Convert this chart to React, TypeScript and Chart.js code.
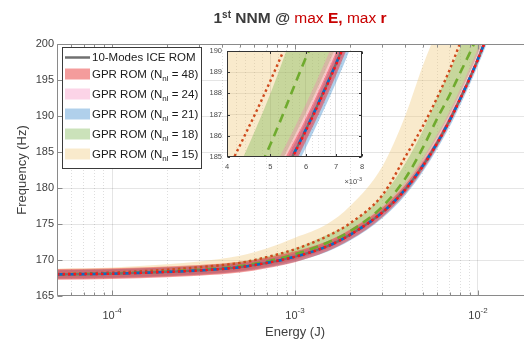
import React, { useEffect, useRef } from "react";
import { Chart, registerables } from "chart.js";
Chart.register(...registerables);

const FONT = "'Liberation Sans', Arial, sans-serif";

// ---------------- data ----------------
const energy = [5e-5, 1e-4, 2e-4, 3e-4, 5e-4, 7e-4, 1e-3, 1.5e-3, 2e-3, 3e-3, 4e-3, 5e-3, 6e-3, 7e-3, 8e-3, 9e-3, 1e-2, 1.2e-2];

const iceRom = [168.0, 168.1, 168.35, 168.55, 169.0, 169.6, 170.45, 171.9, 173.5, 176.6, 179.8, 183.1, 186.3, 189.4, 192.4, 195.2, 197.9, 203.0];
const gpr48Mean = [168.0, 168.1, 168.35, 168.55, 169.0, 169.6, 170.45, 171.9, 173.5, 176.6, 179.75, 183.05, 186.25, 189.35, 192.35, 195.15, 197.85, 203.0];
const gpr21Mean = [168.0, 168.1, 168.35, 168.55, 169.0, 169.6, 170.45, 171.9, 173.5, 176.6, 179.8, 183.1, 186.3, 189.4, 192.4, 195.2, 197.9, 203.0];
const gpr18Mean = [168.0, 168.15, 168.4, 168.65, 169.15, 169.8, 170.8, 172.4, 174.0, 177.4, 181.3, 185.6, 189.7, 192.9, 196.0, 198.7, 201.2, 205.5];
const gpr15Mean = [168.05, 168.25, 168.65, 169.0, 169.6, 170.4, 171.5, 173.3, 175.1, 179.0, 184.3, 188.6, 192.6, 196.4, 200.2, 203.8, 207.2, 213.5];

const gpr48Upper = [168.75, 168.85, 169.1, 169.3, 169.75, 170.35, 171.2, 172.6, 174.2, 177.25, 180.4, 183.7, 186.85, 189.95, 192.9, 195.7, 198.4, 203.5];
const gpr48Lower = [167.25, 167.35, 167.6, 167.8, 168.25, 168.85, 169.7, 171.2, 172.8, 175.95, 179.2, 182.5, 185.75, 188.85, 191.9, 194.7, 197.4, 202.5];
const gpr24Upper = [168.6, 168.7, 168.95, 169.1, 169.55, 170.2, 171.1, 172.6, 174.3, 177.5, 180.8, 184.2, 187.5, 190.7, 193.8, 196.65, 199.4, 204.6];
const gpr24Lower = [167.4, 167.5, 167.75, 167.95, 168.45, 169.05, 169.95, 171.45, 173.05, 176.2, 179.4, 182.7, 185.9, 189.0, 192.0, 194.8, 197.5, 202.6];
const gpr21Upper = [168.6, 168.7, 168.95, 169.15, 169.55, 170.15, 170.95, 172.35, 173.9, 177.0, 180.2, 183.5, 186.7, 189.8, 192.8, 195.6, 198.3, 203.4];
const gpr21Lower = [167.4, 167.5, 167.75, 167.95, 168.4, 168.95, 169.75, 171.15, 172.7, 175.8, 178.95, 182.25, 185.45, 188.5, 191.5, 194.3, 197.0, 202.0];
const gpr18Upper = [168.55, 168.7, 168.95, 169.2, 169.75, 170.5, 171.6, 173.5, 175.1, 178.9, 183.4, 188.0, 192.6, 196.2, 199.5, 202.5, 205.4, 210.5];
const gpr18Lower = [167.5, 167.6, 167.85, 168.1, 168.55, 169.15, 170.1, 171.6, 173.3, 176.6, 180.1, 183.8, 187.1, 190.2, 193.2, 196.0, 198.7, 203.8];
const gpr15Upper = [168.8, 168.95, 169.4, 169.8, 170.6, 171.6, 173.1, 175.0, 177.5, 183.0, 190.0, 197.0, 202.0, 206.0, 210.0, 214.0, 218.0, 226.0];
const gpr15Lower = [167.35, 167.45, 167.7, 167.9, 168.4, 169.0, 170.0, 171.7, 173.4, 176.8, 180.2, 183.6, 186.9, 190.0, 193.0, 195.9, 198.6, 203.7];

// axes / ticks
const xMin = 5e-5;
const xMax = 2e-2;
const xDecades = [1e-4, 1e-3, 1e-2];
const xDecadeExponents = ["-4", "-3", "-2"];
const yMin = 165;
const yMax = 200;
const yStep = 5;

const insetXMin = 4e-3;
const insetXMax = 8e-3;
const insetXLabels = ["4", "5", "6", "7", "8"];
const insetXLabelValues = [4e-3, 5e-3, 6e-3, 7e-3, 8e-3];
const insetYMin = 185;
const insetYMax = 190;

// text
const titleParts = [
  { text: "1", bold: true, red: false, sup: false },
  { text: "st", bold: true, red: false, sup: true },
  { text: " NNM @ ", bold: true, red: false, sup: false },
  { text: "max ", bold: false, red: true, sup: false },
  { text: "E,", bold: true, red: true, sup: false },
  { text: " max ", bold: false, red: true, sup: false },
  { text: "r", bold: true, red: true, sup: false },
];
const xTitle = "Energy (J)";
const yTitle = "Frequency (Hz)";
const lineLegendLabel = "10-Modes ICE ROM";
const bandLegendN = ["48", "24", "21", "18", "15"];

// styles
const C_RED_BAND = "rgba(232,40,40,0.46)";
const C_PINK_BAND = "rgba(245,120,180,0.32)";
const C_BLUE_BAND = "rgba(80,150,210,0.45)";
const C_GREEN_BAND = "rgba(130,185,90,0.42)";
const C_BEIGE_BAND = "rgba(240,200,120,0.38)";
const bandColors = [C_RED_BAND, C_PINK_BAND, C_BLUE_BAND, C_GREEN_BAND, C_BEIGE_BAND];
const AXIS = "#8a8a8a";
const TEXT = "#404040";
const GRID_MAJOR = "rgba(0,0,0,0.10)";
const GRID_MINOR = "rgba(0,0,0,0.13)";

function isDecade(v: number) {
  const l = Math.log10(v);
  return Math.abs(l - Math.round(l)) < 1e-6;
}

function pts(ys: number[]) {
  return energy.map((x, i) => ({ x, y: ys[i] }));
}

function lineDs(label: string, ys: number[], color: string, width: number, dash: number[]) {
  return {
    label,
    data: pts(ys),
    borderColor: color,
    borderWidth: width,
    borderDash: dash,
    pointRadius: 0,
    fill: false,
    clip: 0,
    cubicInterpolationMode: "monotone",
  };
}

function bandDs(label: string, upper: number[], lower: number[], color: string) {
  return [
    {
      label: label + " upper",
      data: pts(upper),
      borderColor: "rgba(0,0,0,0)",
      borderWidth: 0,
      backgroundColor: color,
      pointRadius: 0,
      fill: "+1",
      clip: 0,
      cubicInterpolationMode: "monotone",
    },
    {
      label: label + " lower",
      data: pts(lower),
      borderColor: "rgba(0,0,0,0)",
      borderWidth: 0,
      pointRadius: 0,
      fill: false,
      clip: 0,
      cubicInterpolationMode: "monotone",
    },
  ];
}

function buildDatasets() {
  return [
    lineDs("GPR ROM (N=48) mean", gpr48Mean, "#ff1414", 2.4, [2.5, 3]),
    lineDs("GPR ROM (N=21) mean", gpr21Mean, "#0a6cc2", 2.6, [7, 4]),
    lineDs("10-Modes ICE ROM", iceRom, "#707070", 2.2, []),
    lineDs("GPR ROM (N=18) mean", gpr18Mean, "#6fab2e", 2.6, [9, 6]),
    lineDs("GPR ROM (N=15) mean", gpr15Mean, "#cf4a1c", 2.4, [2.5, 3]),
    ...bandDs("GPR ROM (N=48)", gpr48Upper, gpr48Lower, C_RED_BAND),
    ...bandDs("GPR ROM (N=24)", gpr24Upper, gpr24Lower, C_PINK_BAND),
    ...bandDs("GPR ROM (N=21)", gpr21Upper, gpr21Lower, C_BLUE_BAND),
    ...bandDs("GPR ROM (N=18)", gpr18Upper, gpr18Lower, C_GREEN_BAND),
    ...bandDs("GPR ROM (N=15)", gpr15Upper, gpr15Lower, C_BEIGE_BAND),
  ];
}

function logTicks(min: number, max: number) {
  const out: number[] = [];
  for (let e = Math.floor(Math.log10(min)); e <= Math.ceil(Math.log10(max)); e++) {
    for (let m = 1; m <= 9; m++) {
      const v = Number((m * Math.pow(10, e)).toPrecision(6));
      if (v >= min * 0.9999 && v <= max * 1.0001) out.push(v);
    }
  }
  return out;
}

function drawPow(ctx: CanvasRenderingContext2D, x: number, baseline: number, base: string, exp: string,
  size: number, supSize: number, rise: number, color: string, align: string) {
  ctx.font = `${size}px ${FONT}`;
  const wb = ctx.measureText(base).width;
  ctx.font = `${supSize}px ${FONT}`;
  const we = ctx.measureText(exp).width;
  const total = wb + we;
  const x0 = align === "center" ? x - total / 2 : align === "right" ? x - total : x;
  ctx.fillStyle = color;
  ctx.textAlign = "left";
  ctx.textBaseline = "alphabetic";
  ctx.font = `${size}px ${FONT}`;
  ctx.fillText(base, x0, baseline);
  ctx.font = `${supSize}px ${FONT}`;
  ctx.fillText(exp, x0 + wb, baseline - rise);
}

const mainDecor = {
  id: "mainDecor",
  beforeDraw(chart: any) {
    const { ctx, width, height } = chart;
    ctx.save();
    ctx.fillStyle = "#ffffff";
    ctx.fillRect(0, 0, width, height);
    ctx.restore();
  },
  afterDatasetsDraw(chart: any) {
    const { ctx, chartArea: a, scales } = chart;
    const x = scales.x;
    const y = scales.y;
    ctx.save();
    ctx.strokeStyle = AXIS;
    ctx.lineWidth = 1;
    const L = Math.round(a.left) + 0.5;
    const T = Math.round(a.top) + 0.5;
    const B = Math.round(a.bottom) - 0.5;
    ctx.beginPath();
    ctx.moveTo(L, T);
    ctx.lineTo(L, B);
    ctx.lineTo(a.right, B);
    ctx.moveTo(L, T);
    ctx.lineTo(a.right, T);
    for (const t of x.ticks) {
      const px = Math.round(x.getPixelForValue(t.value)) + 0.5;
      const len = isDecade(t.value) ? 5 : 3;
      ctx.moveTo(px, B);
      ctx.lineTo(px, B - len);
      ctx.moveTo(px, T);
      ctx.lineTo(px, T + len);
    }
    for (const t of y.ticks) {
      const py = Math.round(y.getPixelForValue(t.value)) + 0.5;
      ctx.moveTo(L, py);
      ctx.lineTo(L + 5, py);
    }
    ctx.stroke();

    // legend box
    const lx = 62, ly = 47, lw = 139, lh = 121;
    ctx.fillStyle = "#ffffff";
    ctx.fillRect(lx, ly, lw, lh);
    ctx.strokeStyle = "#3a3a3a";
    ctx.lineWidth = 1;
    ctx.strokeRect(lx + 0.5, ly + 0.5, lw, lh);
    const rowY = [57.5, 74, 94, 114, 134, 154];
    ctx.strokeStyle = "#707070";
    ctx.lineWidth = 2.5;
    ctx.beginPath();
    ctx.moveTo(65, rowY[0]);
    ctx.lineTo(90, rowY[0]);
    ctx.stroke();
    ctx.fillStyle = "#1a1a1a";
    ctx.textAlign = "left";
    ctx.textBaseline = "middle";
    ctx.font = `11.5px ${FONT}`;
    ctx.fillText(lineLegendLabel, 92, rowY[0]);
    for (let i = 0; i < bandLegendN.length; i++) {
      const yy = rowY[i + 1];
      ctx.fillStyle = bandColors[i];
      ctx.fillRect(65, yy - 5.5, 25, 11);
      ctx.fillStyle = "#1a1a1a";
      ctx.textBaseline = "alphabetic";
      ctx.font = `11.5px ${FONT}`;
      const base = yy + 4;
      const p1 = "GPR ROM (N";
      ctx.fillText(p1, 92, base);
      let xx = 92 + ctx.measureText(p1).width;
      ctx.font = `8px ${FONT}`;
      ctx.fillText("nl", xx, base + 3);
      xx += ctx.measureText("nl").width;
      ctx.font = `11.5px ${FONT}`;
      ctx.fillText(" = " + bandLegendN[i] + ")", xx, base);
    }
    ctx.restore();
  },
  afterDraw(chart: any) {
    const { ctx, chartArea: a, scales } = chart;
    const x = scales.x;
    ctx.save();
    xDecades.forEach((v, i) => {
      drawPow(ctx, x.getPixelForValue(v), 318.5, "10", xDecadeExponents[i], 11, 8, 5.5, TEXT, "center");
    });
    ctx.fillStyle = TEXT;
    ctx.font = `13px ${FONT}`;
    ctx.textAlign = "center";
    ctx.textBaseline = "middle";
    ctx.fillText(xTitle, (a.left + a.right) / 2, 332);
    ctx.save();
    ctx.translate(22.5, (a.top + a.bottom) / 2);
    ctx.rotate(-Math.PI / 2);
    ctx.fillText(yTitle, 0, 0);
    ctx.restore();
    // title
    const size = 15.5;
    const supSize = 10;
    let total = 0;
    for (const p of titleParts) {
      ctx.font = `${p.bold ? "bold " : ""}${p.sup ? supSize : size}px ${FONT}`;
      total += ctx.measureText(p.text).width;
    }
    let tx = 300 - total / 2;
    const tb = 23;
    ctx.textAlign = "left";
    ctx.textBaseline = "alphabetic";
    for (const p of titleParts) {
      ctx.font = `${p.bold ? "bold " : ""}${p.sup ? supSize : size}px ${FONT}`;
      ctx.fillStyle = p.red ? "#c80000" : "#3c3c3c";
      ctx.fillText(p.text, tx, p.sup ? tb - 5.5 : tb);
      tx += ctx.measureText(p.text).width;
    }
    ctx.restore();
  },
};

const insetDecor = {
  id: "insetDecor",
  beforeDraw(chart: any) {
    const { ctx, chartArea: a } = chart;
    ctx.save();
    ctx.fillStyle = "#ffffff";
    ctx.fillRect(a.left, a.top, a.right - a.left, a.bottom - a.top);
    ctx.restore();
  },
  afterDraw(chart: any) {
    const { ctx, chartArea: a, scales } = chart;
    const x = scales.x;
    const y = scales.y;
    ctx.save();
    ctx.strokeStyle = "#333333";
    ctx.lineWidth = 1;
    const L = Math.round(a.left) + 0.5;
    const R = Math.round(a.right) - 0.5;
    const T = Math.round(a.top) + 0.5;
    const B = Math.round(a.bottom) - 0.5;
    ctx.strokeRect(L, T, R - L, B - T);
    ctx.beginPath();
    for (const v of insetXLabelValues) {
      const px = Math.round(x.getPixelForValue(v)) + 0.5;
      ctx.moveTo(px, B);
      ctx.lineTo(px, B - 2.5);
      ctx.moveTo(px, T);
      ctx.lineTo(px, T + 2.5);
    }
    for (const t of y.ticks) {
      const py = Math.round(y.getPixelForValue(t.value)) + 0.5;
      ctx.moveTo(L, py);
      ctx.lineTo(L + 2.5, py);
      ctx.moveTo(R, py);
      ctx.lineTo(R - 2.5, py);
    }
    ctx.stroke();
    ctx.fillStyle = "#4a4a4a";
    ctx.font = `7.5px ${FONT}`;
    ctx.textBaseline = "middle";
    ctx.textAlign = "right";
    for (const t of y.ticks) {
      ctx.fillText(String(t.value), a.left - 5, y.getPixelForValue(t.value));
    }
    ctx.textAlign = "center";
    insetXLabelValues.forEach((v, i) => {
      ctx.fillText(insetXLabels[i], x.getPixelForValue(v), a.bottom + 9.5);
    });
    drawPow(ctx, a.right, a.bottom + 27, "\u00d710", "-3", 7.5, 5.5, 3.5, "#4a4a4a", "right");
    ctx.restore();
  },
};

function mainConfig(): any {
  const xTickValues = logTicks(xMin, xMax);
  return {
    type: "line",
    data: { datasets: buildDatasets() },
    options: {
      responsive: false,
      animation: false,
      events: [],
      layout: { padding: { left: 0, right: 1, top: 44, bottom: 0 } },
      plugins: { legend: { display: false }, tooltip: { enabled: false }, title: { display: false } },
      scales: {
        x: {
          type: "logarithmic",
          min: xMin,
          max: xMax,
          afterBuildTicks: (s: any) => {
            s.ticks = xTickValues.map((v) => ({ value: v, major: isDecade(v) }));
          },
          afterFit: (s: any) => {
            s.height = 45;
            s.paddingLeft = 0;
            s.paddingRight = 0;
          },
          ticks: { display: false },
          border: {
            display: false,
            dash: (c: any) => (c.tick && isDecade(c.tick.value) ? [] : [1, 2]),
          },
          grid: {
            drawTicks: false,
            color: (c: any) => (c.tick && isDecade(c.tick.value) ? GRID_MAJOR : GRID_MINOR),
            lineWidth: 1,
          },
        },
        y: {
          type: "linear",
          min: yMin,
          max: yMax,
          afterFit: (s: any) => {
            s.width = 57;
            s.paddingTop = 0;
            s.paddingBottom = 0;
          },
          ticks: {
            stepSize: yStep,
            padding: 3,
            color: TEXT,
            font: { family: FONT, size: 11 },
          },
          border: { display: false },
          grid: {
            drawTicks: false,
            color: (c: any) => (c.tick && (c.tick.value === yMin || c.tick.value === yMax) ? "rgba(0,0,0,0)" : GRID_MAJOR),
          },
        },
      },
    },
    plugins: [mainDecor],
  };
}

function insetConfig(): any {
  const xTickValues: number[] = [];
  for (let k = 0; k <= 20; k++) xTickValues.push(Number((insetXMin + k * 0.2e-3).toPrecision(6)));
  return {
    type: "line",
    data: { datasets: buildDatasets() },
    options: {
      responsive: false,
      animation: false,
      events: [],
      layout: { padding: { left: 32, right: 13, top: 11, bottom: 33 } },
      plugins: { legend: { display: false }, tooltip: { enabled: false }, title: { display: false } },
      scales: {
        x: {
          type: "logarithmic",
          min: insetXMin,
          max: insetXMax,
          afterBuildTicks: (s: any) => {
            s.ticks = xTickValues.map((v) => ({ value: v }));
          },
          afterFit: (s: any) => {
            s.height = 0;
            s.paddingLeft = 0;
            s.paddingRight = 0;
          },
          ticks: { display: false },
          border: {
            display: false,
            dash: (c: any) => {
              if (!c.tick) return [];
              const r = c.tick.value / 1e-3;
              return Math.abs(r - Math.round(r)) < 1e-6 ? [] : [1, 2];
            },
          },
          grid: {
            drawTicks: false,
            color: (c: any) => {
              if (!c.tick) return GRID_MINOR;
              if (c.tick.value <= insetXMin * 1.0001 || c.tick.value >= insetXMax * 0.9999) return "rgba(0,0,0,0)";
              return GRID_MINOR;
            },
          },
        },
        y: {
          type: "linear",
          min: insetYMin,
          max: insetYMax,
          afterFit: (s: any) => {
            s.width = 0;
            s.paddingTop = 0;
            s.paddingBottom = 0;
          },
          ticks: { display: false, stepSize: 1 },
          border: { display: false },
          grid: {
            drawTicks: false,
            color: (c: any) =>
              c.tick && (c.tick.value === insetYMin || c.tick.value === insetYMax) ? "rgba(0,0,0,0)" : GRID_MAJOR,
          },
        },
      },
    },
    plugins: [insetDecor],
  };
}

export default function App() {
  const mainRef = useRef<HTMLCanvasElement>(null);
  const insetRef = useRef<HTMLCanvasElement>(null);
  useEffect(() => {
    const main = new Chart(mainRef.current as HTMLCanvasElement, mainConfig());
    const inset = new Chart(insetRef.current as HTMLCanvasElement, insetConfig());
    return () => {
      main.destroy();
      inset.destroy();
    };
  }, []);
  return (
    <div style={{ position: "fixed", left: 0, top: 0, width: 524, height: 341, overflow: "hidden", background: "#ffffff" }}>
      <canvas ref={mainRef} width={534} height={341} style={{ position: "absolute", left: 0, top: 0, width: 534, height: 341 }} />
      <canvas ref={insetRef} width={180} height={150} style={{ position: "absolute", left: 195, top: 40, width: 180, height: 150 }} />
    </div>
  );
}
